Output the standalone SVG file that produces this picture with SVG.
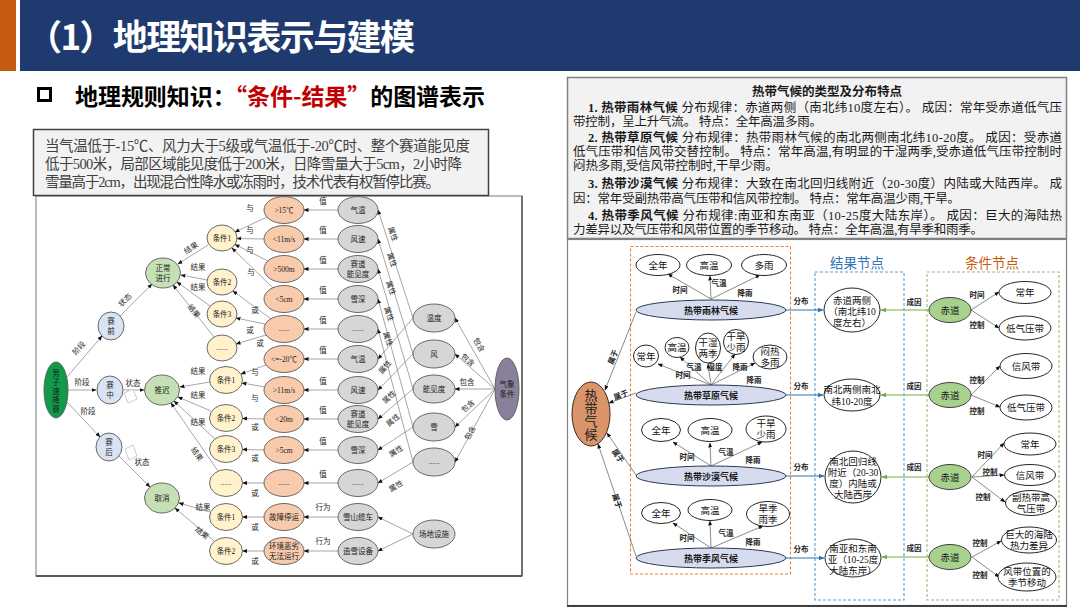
<svg xmlns="http://www.w3.org/2000/svg" width="1080" height="608" viewBox="0 0 1080 608">
<defs>
<style>
.f{font-family:"Liberation Serif","Noto Sans CJK SC",serif}
.s{font-family:"Noto Sans CJK SC","Liberation Sans",sans-serif}
.n{font-size:7.5px;text-anchor:middle;fill:#1a1a1a}
.l{font-size:7.5px;text-anchor:middle;fill:#262626}
.e{stroke:#7f7f7f;stroke-width:0.7;fill:none;marker-end:url(#a)}
.y{fill:#fff2cc;stroke:#595959;stroke-width:0.9}
.o{fill:#f8cbad;stroke:#595959;stroke-width:0.9}
.g{fill:#d6d6d6;stroke:#595959;stroke-width:0.9}
.gr{fill:#c5e0b4;stroke:#595959;stroke-width:0.9}
.b{fill:#dae3f3;stroke:#595959;stroke-width:0.9}
.rt{font-size:12.5px;fill:#1a1a1a}
.cl{fill:#d6dcee;stroke:#2b3a55;stroke-width:1}
.w{fill:#fff;stroke:#262626;stroke-width:1}
.rn{font-size:9.5px;text-anchor:middle;fill:#111}
.rl{font-size:7.5px;text-anchor:middle;fill:#222;font-weight:bold}
.re{stroke:#595959;stroke-width:0.7;fill:none;marker-end:url(#a)}
.eb{stroke:#2e75b6;stroke-width:1.1;fill:none;marker-end:url(#ab)}
.eg{stroke:#70ad47;stroke-width:1.1;fill:none;marker-end:url(#ag)}
</style>
<marker id="a" viewBox="0 0 10 10" refX="9" refY="5" markerWidth="5" markerHeight="5" markerUnits="userSpaceOnUse" orient="auto"><path d="M0,1L10,5L0,9z" fill="#111"/></marker>
<marker id="ab" viewBox="0 0 10 10" refX="9" refY="5" markerWidth="6" markerHeight="6" markerUnits="userSpaceOnUse" orient="auto"><path d="M0,1L10,5L0,9z" fill="#2e75b6"/></marker>
<marker id="ag" viewBox="0 0 10 10" refX="9" refY="5" markerWidth="6" markerHeight="6" markerUnits="userSpaceOnUse" orient="auto"><path d="M0,1L10,5L0,9z" fill="#70ad47"/></marker>
</defs>

<!-- header -->
<rect x="0" y="0" width="1080" height="608" fill="#fff"/>
<rect x="0" y="0" width="16" height="71" fill="#c55a11"/>
<rect x="20" y="0" width="1060" height="71" fill="#1f3a6e"/>
<text x="27" y="50" class="s" font-size="35" font-weight="bold" fill="#fff" textLength="388" lengthAdjust="spacing">（1）地理知识表示与建模</text>

<rect x="38.5" y="88.5" width="12" height="12" fill="none" stroke="#000" stroke-width="3"/>
<text x="75" y="105" class="s" font-size="23" font-weight="bold" textLength="410" lengthAdjust="spacing">地理规则知识：<tspan fill="#c00000">“条件-结果”</tspan>的图谱表示</text>

<!-- left panel -->
<rect x="36" y="196" width="486" height="380" fill="#fff" stroke="#a6a6a6" stroke-width="1.5"/>
<line x1="36" y1="576" x2="522" y2="576" stroke="#595959" stroke-width="2"/>
<line x1="522" y1="196" x2="522" y2="576" stroke="#595959" stroke-width="1.5"/>

<g id="rule-text">
<rect x="33.5" y="129.5" width="455" height="66" fill="#f2f2f2" stroke="#404040" stroke-width="1.5"/>
<text class="f" font-size="14.5" fill="#404040" x="45" y="151" textLength="425" lengthAdjust="spacing">当气温低于-15℃、风力大于5级或气温低于-20℃时、整个赛道能见度</text>
<text class="f" font-size="14.5" fill="#404040" x="45" y="169" textLength="417" lengthAdjust="spacing">低于500米，局部区域能见度低于200米，日降雪量大于5cm，2小时降</text>
<text class="f" font-size="14.5" fill="#404040" x="45" y="187" textLength="395" lengthAdjust="spacing">雪量高于2cm，出现混合性降水或冻雨时，技术代表有权暂停比赛。</text>
</g>

<!-- left connectors -->
<g id="left-connectors" class="f">
<line class="e" x1="67" y1="377" x2="102" y2="336"/>
<line class="e" x1="68" y1="390" x2="96" y2="390"/>
<line class="e" x1="67" y1="402" x2="100" y2="437"/>
<line class="e" x1="120" y1="316" x2="152" y2="284"/>
<line class="e" x1="123" y1="390" x2="144" y2="390"/>
<line class="e" x1="119" y1="456" x2="150" y2="487"/>
<polygon points="124,393 133,389 137,399 128,403" fill="#fff" stroke="#bfbfbf" stroke-width="0.8"/>
<polygon points="125,449 133,445 137,456 129,460" fill="#fff" stroke="#bfbfbf" stroke-width="0.8"/>
<line class="e" x1="208" y1="245" x2="178" y2="264"/>
<line class="e" x1="207" y1="280" x2="181" y2="275"/>
<line class="e" x1="210" y1="306" x2="177" y2="282"/>
<line class="e" x1="214" y1="337" x2="173" y2="285"/>
<line class="e" x1="210" y1="382" x2="180" y2="387"/>
<line class="e" x1="211" y1="411" x2="178" y2="397"/>
<line class="e" x1="215" y1="439" x2="174" y2="401"/>
<line class="e" x1="218" y1="471" x2="171" y2="403"/>
<line class="e" x1="210" y1="512" x2="179" y2="503"/>
<line class="e" x1="214" y1="541" x2="175" y2="508"/>
<line class="e" x1="267" y1="217" x2="235" y2="232"/>
<line class="e" x1="264" y1="239" x2="237" y2="238.5"/>
<line class="e" x1="268" y1="261" x2="235" y2="244.5"/>
<line class="e" x1="273" y1="288" x2="232" y2="248"/>
<line class="e" x1="271" y1="319" x2="233" y2="291"/>
<line class="e" x1="265" y1="324" x2="236" y2="318"/>
<line class="e" x1="266" y1="335" x2="236" y2="344"/>
<line class="e" x1="266" y1="365" x2="241" y2="374"/>
<line class="e" x1="265" y1="387" x2="242" y2="383"/>
<line class="e" x1="264" y1="419" x2="242.5" y2="418.5"/>
<line class="e" x1="264" y1="450" x2="242.5" y2="449.5"/>
<line class="e" x1="264" y1="483" x2="242.5" y2="483"/>
<line class="e" x1="264" y1="517" x2="242.5" y2="517"/>
<line class="e" x1="264" y1="551" x2="242.5" y2="551"/>
<line class="e" x1="338" y1="210" x2="304" y2="210"/>
<line class="e" x1="338" y1="239" x2="304" y2="239"/>
<line class="e" x1="338" y1="269" x2="304" y2="269"/>
<line class="e" x1="338" y1="299" x2="304" y2="299"/>
<line class="e" x1="338" y1="329" x2="304" y2="329"/>
<line class="e" x1="338" y1="359" x2="304" y2="359"/>
<line class="e" x1="338" y1="390" x2="304" y2="390"/>
<line class="e" x1="338" y1="419" x2="304" y2="419"/>
<line class="e" x1="338" y1="450" x2="304" y2="450"/>
<line class="e" x1="338" y1="483" x2="304" y2="483"/>
<line class="e" x1="338" y1="517" x2="304" y2="517"/>
<line class="e" x1="338" y1="551" x2="304" y2="551"/>
<line class="e" x1="413" y1="318" x2="378" y2="210"/>
<line class="e" x1="413" y1="354" x2="378" y2="239"/>
<line class="e" x1="413" y1="389" x2="378" y2="269"/>
<line class="e" x1="413" y1="427" x2="378" y2="299"/>
<line class="e" x1="413" y1="462" x2="378" y2="329"/>
<line class="e" x1="413" y1="318" x2="378" y2="359"/>
<line class="e" x1="413" y1="354" x2="378" y2="390"/>
<line class="e" x1="413" y1="389" x2="378" y2="419"/>
<line class="e" x1="413" y1="427" x2="378" y2="450"/>
<line class="e" x1="413" y1="462" x2="378" y2="483"/>
<line class="e" x1="495" y1="389" x2="455" y2="318"/>
<line class="e" x1="495" y1="389" x2="455" y2="354"/>
<line class="e" x1="495" y1="389" x2="455" y2="389"/>
<line class="e" x1="495" y1="389" x2="455" y2="427"/>
<line class="e" x1="495" y1="389" x2="455" y2="462"/>
<line class="e" x1="413" y1="534" x2="378" y2="517"/>
<line class="e" x1="413" y1="534" x2="378" y2="551"/>
<!-- labels -->
<text class="l" transform="translate(79,348) rotate(-49)" y="2.7">阶段</text>
<text class="l" x="82" y="385">阶段</text>
<text class="l" x="88" y="414">阶段</text>
<text class="l" transform="translate(125,300) rotate(-45)" y="2.7">状态</text>
<text class="l" x="133" y="386">状态</text>
<text class="l" x="142" y="465">状态</text>
<text class="l" transform="translate(191,248) rotate(-32)" y="2.7">结果</text>
<text class="l" x="198" y="270">结果</text>
<text class="l" x="198" y="290">结果</text>
<text class="l" transform="translate(194,311) rotate(52)" y="2.7">结果</text>
<text class="l" x="198" y="374">结果</text>
<text class="l" x="198" y="398">结果</text>
<text class="l" x="198" y="425">结果</text>
<text class="l" transform="translate(197,454) rotate(57)" y="2.7">结果</text>
<text class="l" x="203" y="510">结果</text>
<text class="l" transform="translate(202,533) rotate(40)" y="2.7">结果</text>
<text class="l" x="250" y="211">与</text>
<text class="l" x="250" y="233">与</text>
<text class="l" x="250" y="253">与</text>
<text class="l" x="251" y="275">与</text>
<text class="l" x="255" y="313">或</text>
<text class="l" x="250" y="333">或</text>
<text class="l" x="260" y="346">或</text>
<text class="l" x="255" y="375">与</text>
<text class="l" x="255" y="401">与</text>
<text class="l" x="255" y="430">或</text>
<text class="l" x="255" y="461">或</text>
<text class="l" x="255" y="496">或</text>
<text class="l" x="255" y="530">或</text>
<text class="l" x="255" y="564">或</text>
<text class="l" x="323" y="204">值</text>
<text class="l" x="323" y="233">值</text>
<text class="l" x="323" y="263">值</text>
<text class="l" x="323" y="293">值</text>
<text class="l" x="323" y="323">值</text>
<text class="l" x="323" y="353">值</text>
<text class="l" x="323" y="384">值</text>
<text class="l" x="323" y="413">值</text>
<text class="l" x="323" y="444">值</text>
<text class="l" x="323" y="477">值</text>
<text class="l" x="323" y="510">行为</text>
<text class="l" x="323" y="544">行为</text>
<text class="l" transform="translate(393,234) rotate(72)" y="2.7">属性</text>
<text class="l" transform="translate(392,260) rotate(72)" y="2.7">属性</text>
<text class="l" transform="translate(391,288) rotate(72)" y="2.7">属性</text>
<text class="l" transform="translate(389,314) rotate(72)" y="2.7">属性</text>
<text class="l" transform="translate(388,339) rotate(72)" y="2.7">属性</text>
<text class="l" transform="translate(385,367) rotate(-50)" y="2.7">属性</text>
<text class="l" transform="translate(389,397) rotate(-45)" y="2.7">属性</text>
<text class="l" transform="translate(393,420) rotate(-40)" y="2.7">属性</text>
<text class="l" transform="translate(396,451) rotate(-33)" y="2.7">属性</text>
<text class="l" transform="translate(396,486) rotate(-31)" y="2.7">属性</text>
<text class="l" transform="translate(479,345) rotate(60)" y="2.7">包含</text>
<text class="l" transform="translate(468,360) rotate(41)" y="2.7">包含</text>
<text class="l" x="467" y="385">包含</text>
<text class="l" transform="translate(468,406) rotate(-43)" y="2.7">包含</text>
<text class="l" transform="translate(470,433) rotate(-61)" y="2.7">包含</text>
</g>

<!-- left nodes -->
<g id="n-root" class="f"><ellipse cx="56" cy="390" rx="12" ry="28" fill="#119a4a" stroke="#595959" stroke-width="0.9"/><text class="n" x="56" y="376">男</text><text class="n" x="56" y="385">子</text><text class="n" x="56" y="394">速</text><text class="n" x="56" y="403">降</text><text class="n" x="56" y="412">赛</text></g>
<g id="n-pre" class="f"><ellipse class="b" cx="111" cy="326" rx="13" ry="14"/><text class="n" x="111" y="324">赛</text><text class="n" x="111" y="334">前</text></g>
<g id="n-mid" class="f"><ellipse class="b" cx="110" cy="390" rx="13" ry="14"/><text class="n" x="110" y="388">赛</text><text class="n" x="110" y="398">中</text></g>
<g id="n-post" class="f"><ellipse class="b" cx="109" cy="447" rx="13" ry="14"/><text class="n" x="109" y="445">赛</text><text class="n" x="109" y="455">后</text></g>
<g id="n-normal" class="f"><ellipse class="gr" cx="163" cy="273" rx="17.5" ry="15"/><text class="n" x="163" y="271">正常</text><text class="n" x="163" y="281">进行</text></g>
<g id="n-delay" class="f"><ellipse class="gr" cx="162" cy="390" rx="17.5" ry="15"/><text class="n" x="162" y="393">推迟</text></g>
<g id="n-cancel" class="f"><ellipse class="gr" cx="162" cy="498" rx="17.5" ry="15"/><text class="n" x="162" y="501">取消</text></g>

<g id="n-y1" class="f"><ellipse class="y" cx="222" cy="238" rx="15" ry="13"/><text class="n" x="222" y="241">条件1</text></g>
<g id="n-y2" class="f"><ellipse class="y" cx="222" cy="282" rx="15" ry="13"/><text class="n" x="222" y="285">条件2</text></g>
<g id="n-y3" class="f"><ellipse class="y" cx="222" cy="314" rx="15" ry="13"/><text class="n" x="222" y="317">条件3</text></g>
<g id="n-y4" class="f"><ellipse class="y" cx="222" cy="348" rx="15" ry="13"/><text class="n" x="222" y="350">......</text></g>
<g id="n-y5" class="f"><ellipse class="y" cx="226" cy="380" rx="16.5" ry="13.5"/><text class="n" x="226" y="383">条件1</text></g>
<g id="n-y6" class="f"><ellipse class="y" cx="226" cy="418" rx="16.5" ry="13.5"/><text class="n" x="226" y="421">条件2</text></g>
<g id="n-y7" class="f"><ellipse class="y" cx="226" cy="449" rx="16.5" ry="13.5"/><text class="n" x="226" y="452">条件3</text></g>
<g id="n-y8" class="f"><ellipse class="y" cx="226" cy="483" rx="16.5" ry="13.5"/><text class="n" x="226" y="485">......</text></g>
<g id="n-y9" class="f"><ellipse class="y" cx="226" cy="517" rx="16.5" ry="13.5"/><text class="n" x="226" y="520">条件1</text></g>
<g id="n-y10" class="f"><ellipse class="y" cx="226" cy="551" rx="16.5" ry="13.5"/><text class="n" x="226" y="554">条件2</text></g>

<g id="n-o1" class="f"><ellipse class="o" cx="284" cy="210" rx="20" ry="13.5"/><text class="n" x="284" y="213">&gt;15℃</text></g>
<g id="n-o2" class="f"><ellipse class="o" cx="284" cy="239" rx="20" ry="13.5"/><text class="n" x="284" y="242">&lt;11m/s</text></g>
<g id="n-o3" class="f"><ellipse class="o" cx="284" cy="269" rx="20" ry="13.5"/><text class="n" x="284" y="272">&gt;500m</text></g>
<g id="n-o4" class="f"><ellipse class="o" cx="284" cy="299" rx="20" ry="13.5"/><text class="n" x="284" y="302">&lt;5cm</text></g>
<g id="n-o5" class="f"><ellipse class="o" cx="284" cy="329" rx="20" ry="13.5"/><text class="n" x="284" y="331">......</text></g>
<g id="n-o6" class="f"><ellipse class="o" cx="284" cy="359" rx="20" ry="13.5"/><text class="n" x="284" y="362">&lt;=-20℃</text></g>
<g id="n-o7" class="f"><ellipse class="o" cx="284" cy="390" rx="20" ry="13.5"/><text class="n" x="284" y="393">&gt;11m/s</text></g>
<g id="n-o8" class="f"><ellipse class="o" cx="284" cy="419" rx="20" ry="13.5"/><text class="n" x="284" y="422">&lt;20m</text></g>
<g id="n-o9" class="f"><ellipse class="o" cx="284" cy="450" rx="20" ry="13.5"/><text class="n" x="284" y="453">&gt;5cm</text></g>
<g id="n-o10" class="f"><ellipse class="o" cx="284" cy="483" rx="20" ry="13.5"/><text class="n" x="284" y="485">......</text></g>
<g id="n-o11" class="f"><ellipse class="o" cx="284" cy="517" rx="20" ry="13.5"/><text class="n" x="284" y="520">故障停运</text></g>
<g id="n-o12" class="f"><ellipse class="o" cx="284" cy="551" rx="20" ry="13.5"/><text class="n" x="284" y="549">环境恶劣</text><text class="n" x="284" y="558.5">无法运行</text></g>

<g id="n-g1" class="f"><ellipse class="g" cx="358" cy="210" rx="20" ry="13.5"/><text class="n" x="358" y="213">气温</text></g>
<g id="n-g2" class="f"><ellipse class="g" cx="358" cy="239" rx="20" ry="13.5"/><text class="n" x="358" y="242">风速</text></g>
<g id="n-g3" class="f"><ellipse class="g" cx="358" cy="269" rx="20" ry="13.5"/><text class="n" x="358" y="267">赛道</text><text class="n" x="358" y="276.5">能见度</text></g>
<g id="n-g4" class="f"><ellipse class="g" cx="358" cy="299" rx="20" ry="13.5"/><text class="n" x="358" y="302">雪深</text></g>
<g id="n-g5" class="f"><ellipse class="g" cx="358" cy="329" rx="20" ry="13.5"/><text class="n" x="358" y="331">......</text></g>
<g id="n-g6" class="f"><ellipse class="g" cx="358" cy="359" rx="20" ry="13.5"/><text class="n" x="358" y="362">气温</text></g>
<g id="n-g7" class="f"><ellipse class="g" cx="358" cy="390" rx="20" ry="13.5"/><text class="n" x="358" y="393">风速</text></g>
<g id="n-g8" class="f"><ellipse class="g" cx="358" cy="419" rx="20" ry="13.5"/><text class="n" x="358" y="417">赛道</text><text class="n" x="358" y="426.5">能见度</text></g>
<g id="n-g9" class="f"><ellipse class="g" cx="358" cy="450" rx="20" ry="13.5"/><text class="n" x="358" y="453">雪深</text></g>
<g id="n-g10" class="f"><ellipse class="g" cx="358" cy="483" rx="20" ry="13.5"/><text class="n" x="358" y="485">......</text></g>
<g id="n-g11" class="f"><ellipse class="g" cx="358" cy="517" rx="20" ry="13.5"/><text class="n" x="358" y="520">雪山缆车</text></g>
<g id="n-g12" class="f"><ellipse class="g" cx="358" cy="551" rx="20" ry="13.5"/><text class="n" x="358" y="554">造雪设备</text></g>

<g id="n-temp" class="f"><ellipse class="g" cx="434" cy="318" rx="21" ry="14"/><text class="n" x="434" y="321">温度</text></g>
<g id="n-wind" class="f"><ellipse class="g" cx="434" cy="354" rx="21" ry="14"/><text class="n" x="434" y="357">风</text></g>
<g id="n-vis" class="f"><ellipse class="g" cx="434" cy="389" rx="21" ry="14"/><text class="n" x="434" y="392">能见度</text></g>
<g id="n-snow" class="f"><ellipse class="g" cx="434" cy="427" rx="21" ry="14"/><text class="n" x="434" y="430">雪</text></g>
<g id="n-etc" class="f"><ellipse class="g" cx="434" cy="462" rx="21" ry="14"/><text class="n" x="434" y="464">......</text></g>
<g id="n-site" class="f"><ellipse class="g" cx="434" cy="534" rx="21" ry="14"/><text class="n" x="434" y="537">场地设施</text></g>
<g id="n-weather" class="f"><ellipse cx="507" cy="389" rx="12" ry="31" fill="#8a809c" stroke="#595959" stroke-width="0.9"/><text class="n" x="507" y="387">气象</text><text class="n" x="507" y="397">条件</text></g>

<!-- right text box -->
<g id="climate-text" class="f">
<rect x="567.5" y="77.5" width="499" height="161" fill="#f2f2f2" stroke="#808080" stroke-width="1.5"/>
<text class="rt" x="827" y="96" text-anchor="middle" font-weight="bold">热带气候的类型及分布特点</text>
<text class="rt" x="588" y="111.5" textLength="474" lengthAdjust="spacing"><tspan font-weight="bold">1. 热带雨林气候</tspan> 分布规律：赤道两侧（南北纬10度左右）。 成因：常年受赤道低气压</text>
<text class="rt" x="573" y="125.5" textLength="249" lengthAdjust="spacing">带控制，呈上升气流。 特点：全年高温多雨。</text>
<text class="rt" x="588" y="141.5" textLength="474" lengthAdjust="spacing"><tspan font-weight="bold">2. 热带草原气候</tspan> 分布规律：热带雨林气候的南北两侧南北纬10-20度。 成因：受赤道</text>
<text class="rt" x="573" y="155.5" textLength="489" lengthAdjust="spacing">低气压带和信风带交替控制。 特点：常年高温,有明显的干湿两季,受赤道低气压带控制时</text>
<text class="rt" x="573" y="169.5" textLength="205" lengthAdjust="spacing">闷热多雨,受信风带控制时,干旱少雨。</text>
<text class="rt" x="588" y="188" textLength="474" lengthAdjust="spacing"><tspan font-weight="bold">3. 热带沙漠气候</tspan> 分布规律：大致在南北回归线附近（20-30度）内陆或大陆西岸。 成</text>
<text class="rt" x="573" y="203" textLength="387" lengthAdjust="spacing">因：常年受副热带高气压带和信风带控制。 特点：常年高温少雨,干旱。</text>
<text class="rt" x="588" y="220" textLength="474" lengthAdjust="spacing"><tspan font-weight="bold">4. 热带季风气候</tspan> 分布规律:南亚和东南亚（10-25度大陆东岸）。 成因：巨大的海陆热</text>
<text class="rt" x="573" y="234" textLength="410" lengthAdjust="spacing">力差异以及气压带和风带位置的季节移动。 特点：全年高温,有旱季和雨季。</text>
</g>

<!-- right panel -->
<rect x="567.5" y="239.5" width="499" height="366" fill="#fff" stroke="#808080" stroke-width="1.2"/>
<line x1="567" y1="606" x2="1067" y2="606" stroke="#404040" stroke-width="2"/>
<g id="frames" class="s">
<rect x="630.5" y="246.5" width="160" height="327.5" fill="none" stroke="#ed7d31" stroke-width="1.1" stroke-dasharray="3 2"/>
<rect x="815" y="272" width="89" height="328" fill="none" stroke="#5b9bd5" stroke-width="1.1" stroke-dasharray="3 2"/>
<rect x="927" y="272" width="132" height="328" fill="none" stroke="#a5b47a" stroke-width="1.1" stroke-dasharray="3 2"/>
<text x="857" y="268" font-size="13.5" fill="#2e75b6" text-anchor="middle">结果节点</text>
<text x="992" y="268" font-size="13.5" fill="#c55a11" text-anchor="middle">条件节点</text>
</g>

<g id="right-connectors" class="f">
<line class="re" x1="636" y1="312" x2="605" y2="390"/>
<line class="re" x1="636" y1="393" x2="609" y2="403"/>
<line class="re" x1="636" y1="475" x2="607" y2="433"/>
<line class="re" x1="636" y1="556" x2="598" y2="444"/>
<text class="rl" transform="translate(613,357) rotate(-68)" y="2.7">属于</text>
<text class="rl" transform="translate(621,395) rotate(-22)" y="2.7">属于</text>
<text class="rl" transform="translate(618,456) rotate(55)" y="2.7">属于</text>
<text class="rl" transform="translate(617,501) rotate(71)" y="2.7">属于</text>

<line class="re" x1="711" y1="299" x2="668" y2="274"/>
<line class="re" x1="711" y1="299" x2="710" y2="276"/>
<line class="re" x1="711" y1="299" x2="760" y2="275"/>
<text class="rl" x="680" y="293">时间</text>
<text class="rl" x="719" y="286">气温</text>
<text class="rl" x="745" y="296">降雨</text>

<line class="re" x1="711" y1="385" x2="658" y2="364"/>
<line class="re" x1="711" y1="385" x2="680" y2="357"/>
<line class="re" x1="711" y1="385" x2="708" y2="364"/>
<line class="re" x1="711" y1="385" x2="735" y2="354"/>
<line class="re" x1="711" y1="385" x2="755" y2="363"/>
<text class="rl" x="694" y="370">气温</text>
<text class="rl" x="715" y="370">湿度</text>
<text class="rl" x="740" y="370">降雨</text>
<text class="rl" x="683" y="378">时间</text>
<text class="rl" x="754" y="383">降雨</text>

<line class="re" x1="711" y1="466" x2="673" y2="442"/>
<line class="re" x1="711" y1="466" x2="710" y2="443"/>
<line class="re" x1="711" y1="466" x2="762" y2="442"/>
<text class="rl" x="687" y="460">时间</text>
<text class="rl" x="726" y="455">气温</text>
<text class="rl" x="753" y="463">降雨</text>

<line class="re" x1="711" y1="548" x2="673" y2="523"/>
<line class="re" x1="711" y1="548" x2="710" y2="521"/>
<line class="re" x1="711" y1="548" x2="763" y2="526"/>
<text class="rl" x="687" y="541">时间</text>
<text class="rl" x="726" y="536">气温</text>
<text class="rl" x="753" y="545">降雨</text>

<line class="eb" x1="786" y1="310" x2="823" y2="310"/>
<line class="eb" x1="786" y1="395" x2="823" y2="395"/>
<line class="eb" x1="786" y1="476" x2="824" y2="476"/>
<line class="eb" x1="786" y1="558" x2="824" y2="558"/>
<text class="rl" x="801" y="304">分布</text>
<text class="rl" x="801" y="389">分布</text>
<text class="rl" x="801" y="470">分布</text>
<text class="rl" x="801" y="552">分布</text>

<line class="eg" x1="929" y1="310" x2="881" y2="310"/>
<line class="eg" x1="929" y1="395" x2="881" y2="395"/>
<line class="eg" x1="929" y1="477" x2="882" y2="477"/>
<line class="eg" x1="929" y1="557" x2="882" y2="557"/>
<text class="rl" x="914" y="305">成因</text>
<text class="rl" x="914" y="389">成因</text>
<text class="rl" x="914" y="470">成因</text>
<text class="rl" x="914" y="551">成因</text>

<line class="re" x1="971" y1="310" x2="999" y2="292"/>
<line class="re" x1="971" y1="310" x2="999" y2="328"/>
<line class="re" x1="971" y1="395" x2="1000" y2="366"/>
<line class="re" x1="971" y1="395" x2="1000" y2="407"/>
<line class="re" x1="972" y1="477" x2="1004" y2="443"/>
<line class="re" x1="972" y1="477" x2="1004" y2="475"/>
<line class="re" x1="972" y1="477" x2="1005" y2="502"/>
<line class="re" x1="972" y1="557" x2="1001" y2="541"/>
<line class="re" x1="972" y1="557" x2="999" y2="577"/>
<text class="rl" x="977" y="298">时间</text>
<text class="rl" x="977" y="328">控制</text>
<text class="rl" x="977" y="383">控制</text>
<text class="rl" x="977" y="414">控制</text>
<text class="rl" x="985" y="458">时间</text>
<text class="rl" x="990" y="475">控制</text>
<text class="rl" x="983" y="500">控制</text>
<text class="rl" x="980" y="546">控制</text>
<text class="rl" x="980" y="578">控制</text>
</g>

<!-- right nodes -->
<g id="n-tropical" class="f"><ellipse cx="591" cy="414" rx="19" ry="32" fill="#d9946a" stroke="#3a2a1f" stroke-width="1"/><text x="591" y="400" font-size="13" text-anchor="middle" fill="#1a1a1a">热</text><text x="591" y="413" font-size="13" text-anchor="middle" fill="#1a1a1a">带</text><text x="591" y="426" font-size="13" text-anchor="middle" fill="#1a1a1a">气</text><text x="591" y="439" font-size="13" text-anchor="middle" fill="#1a1a1a">候</text></g>
<g id="n-c1" class="f"><ellipse class="cl" cx="711" cy="310" rx="75" ry="10"/><text x="711" y="313.5" font-size="9" font-weight="bold" text-anchor="middle" fill="#1a1a1a">热带雨林气候</text></g>
<g id="n-c2" class="f"><ellipse class="cl" cx="711" cy="395" rx="75" ry="10"/><text x="711" y="398.5" font-size="9" font-weight="bold" text-anchor="middle" fill="#1a1a1a">热带草原气候</text></g>
<g id="n-c3" class="f"><ellipse class="cl" cx="711" cy="476" rx="75" ry="10"/><text x="711" y="479.5" font-size="9" font-weight="bold" text-anchor="middle" fill="#1a1a1a">热带沙漠气候</text></g>
<g id="n-c4" class="f"><ellipse class="cl" cx="711" cy="558" rx="75" ry="10"/><text x="711" y="561.5" font-size="9" font-weight="bold" text-anchor="middle" fill="#1a1a1a">热带季风气候</text></g>

<g id="n-c1a" class="f"><ellipse class="w" cx="658" cy="265" rx="22" ry="10.5"/><text class="rn" x="658" y="268.5">全年</text></g>
<g id="n-c1b" class="f"><ellipse class="w" cx="709" cy="265" rx="22.5" ry="10.5"/><text class="rn" x="709" y="268.5">高温</text></g>
<g id="n-c1c" class="f"><ellipse class="w" cx="764" cy="265" rx="22.5" ry="10.5"/><text class="rn" x="764" y="268.5">多雨</text></g>

<g id="n-c2a" class="f"><ellipse class="w" cx="646" cy="356" rx="12.5" ry="11"/><text class="rn" x="646" y="359.5" font-size="9">常年</text></g>
<g id="n-c2b" class="f"><ellipse class="w" cx="677" cy="347.5" rx="12" ry="10"/><text class="rn" x="677" y="351" font-size="9">高温</text></g>
<g id="n-c2c" class="f"><ellipse class="w" cx="708" cy="348" rx="12.5" ry="15"/><text class="rn" x="708" y="345.5" font-size="9">干湿</text><text class="rn" x="708" y="356.5" font-size="9">两季</text></g>
<g id="n-c2d" class="f"><ellipse class="w" cx="736" cy="342" rx="12.5" ry="12.5"/><text class="rn" x="736" y="339.5" font-size="9">干旱</text><text class="rn" x="736" y="350.5" font-size="9">少雨</text></g>
<g id="n-c2e" class="f"><ellipse class="w" cx="770" cy="357" rx="17" ry="12"/><text class="rn" x="770" y="354.5" font-size="9">闷热</text><text class="rn" x="770" y="365.5" font-size="9">多雨</text></g>

<g id="n-c3a" class="f"><ellipse class="w" cx="661" cy="430" rx="19.5" ry="11.5"/><text class="rn" x="661" y="433.5">全年</text></g>
<g id="n-c3b" class="f"><ellipse class="w" cx="710" cy="430" rx="22" ry="11.5"/><text class="rn" x="710" y="433.5">高温</text></g>
<g id="n-c3c" class="f"><ellipse class="w" cx="766" cy="429" rx="20" ry="13"/><text class="rn" x="766" y="426.5">干旱</text><text class="rn" x="766" y="437.5">少雨</text></g>

<g id="n-c4a" class="f"><ellipse class="w" cx="661" cy="513" rx="19.5" ry="10.5"/><text class="rn" x="661" y="516.5">全年</text></g>
<g id="n-c4b" class="f"><ellipse class="w" cx="710" cy="510" rx="22" ry="10.5"/><text class="rn" x="710" y="513.5">高温</text></g>
<g id="n-c4c" class="f"><ellipse class="w" cx="768" cy="514" rx="21.5" ry="12.5"/><text class="rn" x="768" y="511.5">旱季</text><text class="rn" x="768" y="522.5">雨季</text></g>

<g id="n-r1" class="f"><ellipse class="w" cx="852" cy="310" rx="28" ry="22"/><text class="rn" font-size="9" x="852" y="303.5">赤道两侧</text><text class="rn" font-size="9" x="852" y="314.5">（南北纬10</text><text class="rn" font-size="9" x="852" y="325.5">度左右）</text></g>
<g id="n-r2" class="f"><ellipse class="w" cx="852" cy="395" rx="28" ry="16"/><text class="rn" font-size="9" x="852" y="393">南北两侧南北</text><text class="rn" font-size="9" x="852" y="404.5">纬10-20度</text></g>
<g id="n-r3" class="f"><ellipse class="w" cx="853" cy="477" rx="28" ry="26"/><text class="rn" font-size="9" x="853" y="465">南北回归线</text><text class="rn" font-size="9" x="853" y="476">附近（20-30</text><text class="rn" font-size="9" x="853" y="487">度）内陆或</text><text class="rn" font-size="9" x="853" y="498">大陆西岸</text></g>
<g id="n-r4" class="f"><ellipse class="w" cx="853" cy="558" rx="28" ry="19"/><text class="rn" font-size="9" x="853" y="552">南亚和东南</text><text class="rn" font-size="9" x="853" y="563">亚（10-25度</text><text class="rn" font-size="9" x="853" y="574">大陆东岸）</text></g>

<g id="n-e1" class="f"><ellipse cx="950" cy="310" rx="21" ry="12.5" fill="#a9d18e" stroke="#404040" stroke-width="1"/><text class="rn" x="950" y="313.5">赤道</text></g>
<g id="n-e2" class="f"><ellipse cx="950" cy="395" rx="21" ry="12.5" fill="#a9d18e" stroke="#404040" stroke-width="1"/><text class="rn" x="950" y="398.5">赤道</text></g>
<g id="n-e3" class="f"><ellipse cx="950" cy="477" rx="21" ry="12.5" fill="#a9d18e" stroke="#404040" stroke-width="1"/><text class="rn" x="950" y="480.5">赤道</text></g>
<g id="n-e4" class="f"><ellipse cx="950" cy="557" rx="21" ry="12.5" fill="#a9d18e" stroke="#404040" stroke-width="1"/><text class="rn" x="950" y="560.5">赤道</text></g>

<g id="n-k1" class="f"><ellipse class="w" cx="1025" cy="292.5" rx="26" ry="11"/><text class="rn" x="1025" y="296">常年</text></g>
<g id="n-k2" class="f"><ellipse class="w" cx="1025" cy="328" rx="26" ry="12"/><text class="rn" x="1025" y="331.5">低气压带</text></g>
<g id="n-k3" class="f"><ellipse class="w" cx="1026" cy="366" rx="26" ry="12.5"/><text class="rn" x="1026" y="369.5">信风带</text></g>
<g id="n-k4" class="f"><ellipse class="w" cx="1026" cy="407.5" rx="26" ry="12.5"/><text class="rn" x="1026" y="411">低气压带</text></g>
<g id="n-k5" class="f"><ellipse class="w" cx="1030" cy="444" rx="26" ry="11"/><text class="rn" x="1030" y="447.5">常年</text></g>
<g id="n-k6" class="f"><ellipse class="w" cx="1030" cy="475" rx="25.5" ry="10.5"/><text class="rn" x="1030" y="478.5">信风带</text></g>
<g id="n-k7" class="f"><ellipse class="w" cx="1031" cy="503" rx="25.5" ry="12.5"/><text class="rn" x="1031" y="500.5">副热带高</text><text class="rn" x="1031" y="511.5">气压带</text></g>
<g id="n-k8" class="f"><ellipse class="w" cx="1029" cy="540" rx="27.5" ry="13"/><text class="rn" x="1029" y="537.5">巨大的海陆</text><text class="rn" x="1029" y="548.5">热力差异</text></g>
<g id="n-k9" class="f"><ellipse class="w" cx="1027" cy="577" rx="29" ry="14"/><text class="rn" x="1027" y="574.5">风带位置的</text><text class="rn" x="1027" y="585.5">季节移动</text></g>
</svg>
